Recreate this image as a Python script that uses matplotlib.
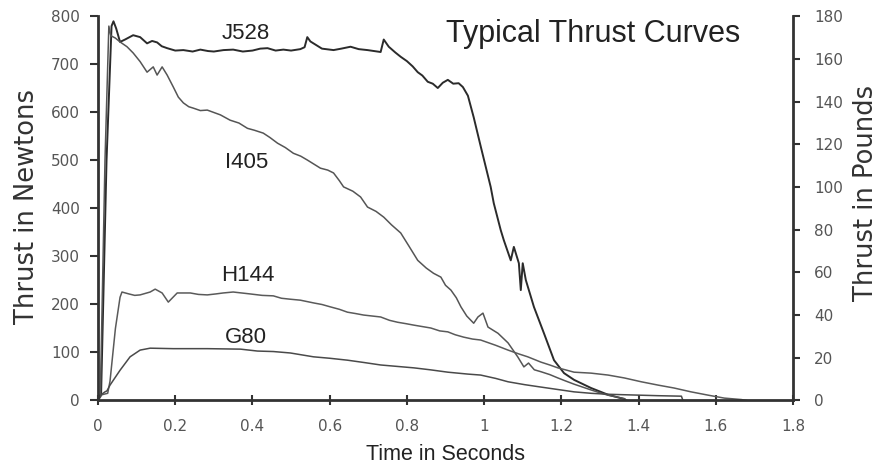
import matplotlib
matplotlib.use("Agg")
import numpy as np
from matplotlib import pyplot as plt

# thrust curves (time in s, thrust in N)
j528_t = [0, 0.008, 0.022, 0.035, 0.040, 0.047, 0.057, 0.070, 0.091, 0.109, 0.127, 0.140, 0.153,
          0.165, 0.179, 0.200, 0.221, 0.245, 0.265, 0.285, 0.300, 0.325, 0.350, 0.375, 0.400, 0.420,
          0.439, 0.460, 0.480, 0.500, 0.524, 0.535, 0.542, 0.550, 0.558, 0.580, 0.610, 0.630, 0.654,
          0.675, 0.698, 0.715, 0.732, 0.740, 0.753, 0.770, 0.784, 0.800, 0.815, 0.828, 0.840, 0.854,
          0.867, 0.880, 0.893, 0.906, 0.920, 0.934, 0.945, 0.958, 0.973, 0.991, 1.017, 1.025, 1.043,
          1.051, 1.069, 1.077, 1.090, 1.095, 1.100, 1.108, 1.129, 1.155, 1.181, 1.207, 1.233, 1.277,
          1.321, 1.363]
j528_f = [0, 15, 500, 780, 790, 775, 747, 752, 761, 757, 744, 749, 746,
          738, 734, 729, 730, 727, 731, 728, 727, 730, 731, 727, 729, 733,
          734, 729, 731, 729, 732, 736, 757, 748, 744, 733, 730, 733, 737,
          732, 730, 728, 726, 752, 737, 725, 716, 707, 696, 684, 677, 664,
          660, 651, 662, 668, 660, 661, 653, 635, 590, 530, 445, 411, 355,
          334, 292, 320, 286, 230, 286, 251, 195, 140, 84, 57, 43, 26,
          12, 3]

i405_t = [0, 0.006, 0.018, 0.028, 0.033, 0.045, 0.057, 0.075, 0.091, 0.109, 0.127, 0.143, 0.153,
          0.166, 0.179, 0.195, 0.208, 0.221, 0.235, 0.247, 0.265, 0.283, 0.300, 0.317, 0.342, 0.365,
          0.387, 0.405, 0.428, 0.445, 0.465, 0.485, 0.506, 0.525, 0.542, 0.560, 0.576, 0.595, 0.610,
          0.625, 0.636, 0.660, 0.680, 0.698, 0.720, 0.740, 0.760, 0.784, 0.805, 0.828, 0.850, 0.869,
          0.888, 0.900, 0.914, 0.928, 0.940, 0.955, 0.973, 0.984, 0.997, 1.010, 1.036, 1.062, 1.087,
          1.103, 1.115, 1.130, 1.147, 1.170, 1.191, 1.210, 1.233, 1.255, 1.277, 1.300, 1.321, 1.363,
          1.370]
i405_f = [0, 10, 500, 780, 760, 755, 747, 737, 724, 706, 684, 695, 678,
          695, 678, 653, 632, 620, 612, 609, 604, 605, 600, 595, 584, 578,
          567, 563, 557, 548, 536, 527, 515, 509, 501, 492, 484, 480, 474,
          458, 445, 436, 424, 403, 394, 382, 366, 349, 322, 292, 276, 265,
          257, 240, 230, 214, 195, 176, 161, 174, 182, 153, 140, 120, 91,
          70, 78, 64, 60, 54, 47, 41, 34, 28, 22, 16, 11, 4,
          0]

h144_t = [0, 0.010, 0.025, 0.031, 0.045, 0.057, 0.062, 0.080, 0.095, 0.109, 0.135, 0.148, 0.166,
          0.182, 0.205, 0.239, 0.260, 0.283, 0.305, 0.324, 0.350, 0.394, 0.425, 0.454, 0.475, 0.498,
          0.524, 0.560, 0.580, 0.602, 0.625, 0.646, 0.668, 0.688, 0.710, 0.732, 0.755, 0.776, 0.798,
          0.818, 0.840, 0.862, 0.885, 0.906, 0.925, 0.947, 0.970, 0.991, 1.030, 1.062, 1.090, 1.113,
          1.147, 1.170, 1.191, 1.210, 1.233, 1.277, 1.321, 1.363, 1.407, 1.451, 1.492, 1.536, 1.581,
          1.622, 1.666, 1.680]
h144_f = [0, 12, 15, 40, 150, 215, 226, 222, 219, 220, 226, 232, 224,
          205, 224, 224, 221, 220, 222, 224, 226, 222, 219, 218, 213, 211,
          209, 203, 200, 195, 190, 184, 181, 178, 176, 174, 167, 163, 160,
          157, 154, 151, 145, 143, 137, 132, 128, 126, 115, 105, 97, 91,
          80, 74, 68, 64, 59, 57, 53, 47, 39, 32, 26, 18, 11,
          5, 2, 0]

g80_t = [0, 0.008, 0.018, 0.023, 0.031, 0.057, 0.083, 0.109, 0.135, 0.195, 0.283, 0.369, 0.413,
         0.454, 0.498, 0.558, 0.600, 0.646, 0.690, 0.732, 0.775, 0.818, 0.860, 0.906, 0.958, 0.991,
         1.030, 1.062, 1.105, 1.147, 1.190, 1.233, 1.277, 1.321, 1.363, 1.407, 1.451, 1.511, 1.515]
g80_f = [0, 12, 18, 20, 32, 63, 91, 105, 109, 108, 108, 107, 103,
         102, 99, 91, 88, 84, 79, 74, 71, 68, 64, 59, 55, 53,
         46, 39, 33, 28, 23, 18, 15, 13, 12, 11, 10, 9, 0]

curves = [
    ("J528", j528_t, j528_f, "#2b2b2b", 1.4),
    ("I405", i405_t, i405_f, "#555555", 1.1),
    ("H144", h144_t, h144_f, "#5a5a5a", 1.1),
    ("G80", g80_t, g80_f, "#4a4a4a", 1.1),
]

# curve name labels (time, thrust)
label_pos = {"J528": (0.382, 765), "I405": (0.384, 496), "H144": (0.387, 261), "G80": (0.382, 132)}

x_ticks = [0, 0.2, 0.4, 0.6, 0.8, 1.0, 1.2, 1.4, 1.6, 1.8]
x_tick_labels = ["0", "0.2", "0.4", "0.6", "0.8", "1", "1.2", "1.4", "1.6", "1.8"]
n_ticks = list(range(0, 801, 100))
lb_ticks = list(range(0, 181, 20))

arial = ["Liberation Sans", "DejaVu Sans"]
spine_col = "#333333"
tick_col = "#555555"

fig = plt.figure(figsize=(8.88, 4.67), dpi=100)
ax = fig.add_axes([0.1104, 0.1424, 0.7826, 0.8223])

for name, t, f, col, lw in curves:
    ax.plot(t, f, color=col, lw=lw, solid_joinstyle="round")
    lx, ly = label_pos[name]
    ax.text(lx, ly, name, ha="center", va="center", fontsize=16, family=arial, color="#222222")

ax.set_xlim(0, 1.8)
ax.set_ylim(0, 800)
ax.set_xticks(x_ticks)
ax.set_xticklabels(x_tick_labels)
ax.set_yticks(n_ticks)

ax.spines["top"].set_visible(False)
ax.spines["right"].set_visible(False)
for s in ("left", "bottom"):
    ax.spines[s].set_linewidth(2)
    ax.spines[s].set_color(spine_col)

ax.tick_params(axis="y", direction="out", length=6, width=1.5, color=spine_col,
               labelsize=11, labelcolor=tick_col, pad=7)
ax.tick_params(axis="x", direction="inout", length=7, width=1.5, color=spine_col,
               labelsize=11, labelcolor=tick_col, pad=10)

ax2 = ax.twinx()
ax2.set_ylim(0, 180)
ax2.set_yticks(lb_ticks)
for s in ("top", "left", "bottom"):
    ax2.spines[s].set_visible(False)
ax2.spines["right"].set_linewidth(2)
ax2.spines["right"].set_color(spine_col)
ax2.tick_params(axis="y", direction="out", length=5, width=1.5, color=spine_col,
                labelsize=11, labelcolor=tick_col, pad=10)

ax.set_ylabel("Thrust in Newtons", fontsize=18.5, color="#333333", labelpad=8)
ax.yaxis.label.set_y(0.505)
ax2.set_ylabel("Thrust in Pounds", fontsize=18.5, color="#333333", labelpad=7)
ax2.yaxis.label.set_y(0.54)
ax.set_xlabel("Time in Seconds", fontsize=15.5, family=arial, color="#222222", labelpad=7)

ax.text(0.712, 0.934, "Typical Thrust Curves", transform=ax.transAxes, ha="center",
        va="baseline", fontsize=22, family=arial, color="#222222")

fig.savefig("out.png", dpi=100)
